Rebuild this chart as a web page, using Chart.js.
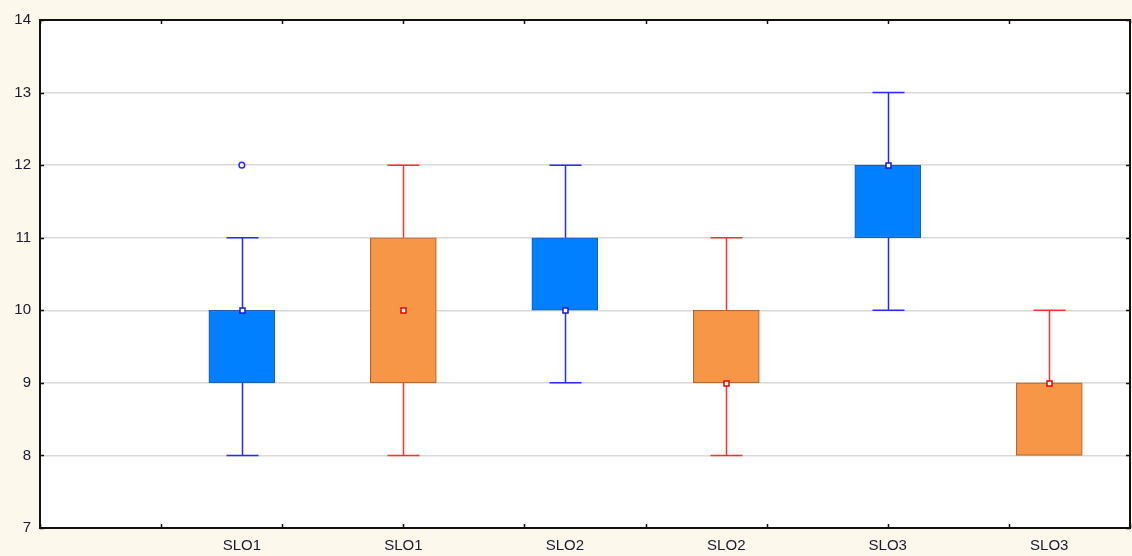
<!DOCTYPE html>
<html>
<head>
<meta charset="utf-8">
<script src="https://cdn.jsdelivr.net/npm/chart.js@4/dist/chart.umd.min.js"></script>
<style>
  html, body { margin: 0; padding: 0; background: #fcf8ec; }
  #wrap { width: 1132px; height: 556px; }
</style>
</head>
<body>
<div id="wrap"><canvas id="c"></canvas></div>
<script>
// Box plot data, one entry per box
const categories = ['SLO1', 'SLO1', 'SLO2', 'SLO2', 'SLO3', 'SLO3'];
const mins    = [8, 8, 9, 8, 10, 8];
const q1      = [9, 9, 10, 9, 11, 8];
const medians = [10, 10, 10, 9, 12, 9];
const q3      = [10, 11, 11, 10, 12, 9];
const maxs    = [11, 12, 12, 11, 13, 10];
// outliers: box index and value
const outlierIndex = [0];
const outlierValue = [12];
const yTicks = [7, 8, 9, 10, 11, 12, 13, 14];

const boxFill   = ['#0080ff', '#f79646', '#0080ff', '#f79646', '#0080ff', '#f79646'];
const boxEdge   = ['#1f5fb0', '#b8682c', '#1f5fb0', '#b8682c', '#1f5fb0', '#b8682c'];
const whiskerCol = ['#2a2aff', '#ff3030', '#2a2aff', '#ff3030', '#2a2aff', '#ff3030'];
const markerCol  = ['#1a1acc', '#ee0000', '#1a1acc', '#ee0000', '#1a1acc', '#ee0000'];

const positions = categories.map((_, i) => i + 1);

const bgPlugin = {
  id: 'bg',
  beforeDraw(chart) {
    const { ctx, chartArea: a } = chart;
    ctx.save();
    ctx.fillStyle = '#fcf8ec';
    ctx.fillRect(0, 0, chart.width, chart.height);
    ctx.fillStyle = '#ffffff';
    ctx.fillRect(a.left, a.top, a.right - a.left, a.bottom - a.top);
    ctx.restore();
  }
};

const whiskerPlugin = {
  id: 'whiskers',
  afterDatasetsDraw(chart) {
    const { ctx, scales: { x, y } } = chart;
    ctx.save();
    const cap = 16;
    positions.forEach((p, i) => {
      const px = Math.round(x.getPixelForValue(p)) + 0.5;
      ctx.strokeStyle = whiskerCol[i];
      ctx.lineWidth = 1.5;
      const segs = [[q3[i], maxs[i]], [q1[i], mins[i]]];
      segs.forEach(([from, to]) => {
        if (from === to) return;
        const y0 = y.getPixelForValue(from);
        const y1 = y.getPixelForValue(to);
        ctx.beginPath();
        ctx.moveTo(px, y0);
        ctx.lineTo(px, y1);
        ctx.moveTo(px - cap, y1);
        ctx.lineTo(px + cap, y1);
        ctx.stroke();
      });
    });
    // median markers
    positions.forEach((p, i) => {
      const px = Math.round(x.getPixelForValue(p)) + 0.5;
      const py = Math.round(y.getPixelForValue(medians[i])) + 0.5;
      ctx.strokeStyle = markerCol[i];
      ctx.lineWidth = 1.5;
      ctx.fillStyle = '#ffffff';
      ctx.fillRect(px - 2.5, py - 2.5, 5, 5);
      ctx.strokeRect(px - 2.5, py - 2.5, 5, 5);
    });
    // outliers
    outlierIndex.forEach((bi, k) => {
      const px = x.getPixelForValue(positions[bi]);
      const py = y.getPixelForValue(outlierValue[k]);
      ctx.strokeStyle = whiskerCol[bi];
      ctx.fillStyle = '#ffffff';
      ctx.lineWidth = 1.5;
      ctx.beginPath();
      ctx.arc(px, py, 2.8, 0, Math.PI * 2);
      ctx.fill();
      ctx.stroke();
    });
    ctx.restore();
  }
};

const framePlugin = {
  id: 'frame',
  afterDraw(chart) {
    const { ctx, chartArea: a, scales: { x, y } } = chart;
    ctx.save();
    ctx.strokeStyle = '#111111';
    ctx.lineWidth = 1.5;
    // tick marks on all four sides
    ctx.beginPath();
    yTicks.forEach(v => {
      const py = Math.round(y.getPixelForValue(v)) + 0.5;
      ctx.moveTo(a.left, py); ctx.lineTo(a.left + 4, py);
      ctx.moveTo(a.right, py); ctx.lineTo(a.right - 4, py);
    });
    for (let v = x.min; v <= x.max + 1e-6; v += 0.75) {
      const px = Math.round(x.getPixelForValue(v)) + 0.5;
      ctx.moveTo(px, a.bottom); ctx.lineTo(px, a.bottom - 4);
      ctx.moveTo(px, a.top); ctx.lineTo(px, a.top + 4);
    }
    ctx.stroke();
    ctx.lineWidth = 2;
    ctx.strokeRect(a.left, a.top, a.right - a.left, a.bottom - a.top);
    ctx.restore();
  }
};

new Chart(document.getElementById('c'), {
  type: 'bar',
  data: {
    datasets: [{
      data: positions.map((p, i) => ({ x: p, y: [q1[i], q3[i]] })),
      backgroundColor: boxFill,
      borderColor: boxEdge,
      borderWidth: 1.2,
      borderSkipped: false,
      barThickness: 66
    }]
  },
  options: {
    responsive: true,
    maintainAspectRatio: false,
    animation: false,
    layout: { padding: { top: 20, right: 2, left: 0, bottom: 0 } },
    plugins: { legend: { display: false }, tooltip: { enabled: false } },
    scales: {
      x: {
        type: 'linear',
        offset: false,
        min: -0.25,
        max: 6.5,
        afterBuildTicks: s => { s.ticks = positions.map(v => ({ value: v })); },
        afterFit: s => { s.height = 28; },
        grid: { display: false, drawTicks: false, offset: false },
        border: { display: false },
        ticks: {
          padding: 9,
          color: '#1c1c30',
          font: { family: 'Liberation Sans, Arial, sans-serif', size: 15 },
          callback: (v) => categories[positions.indexOf(v)] || ''
        }
      },
      y: {
        min: 7,
        max: 14,
        afterBuildTicks: s => { s.ticks = yTicks.map(v => ({ value: v })); },
        afterFit: s => { s.width = 40; },
        grid: { color: '#d9d9d9', lineWidth: 1.5, drawTicks: false },
        border: { display: false },
        ticks: {
          padding: 9,
          color: '#1c1c30',
          font: { family: 'Liberation Sans, Arial, sans-serif', size: 15 }
        }
      }
    }
  },
  plugins: [bgPlugin, whiskerPlugin, framePlugin]
});
</script>
</body>
</html>
